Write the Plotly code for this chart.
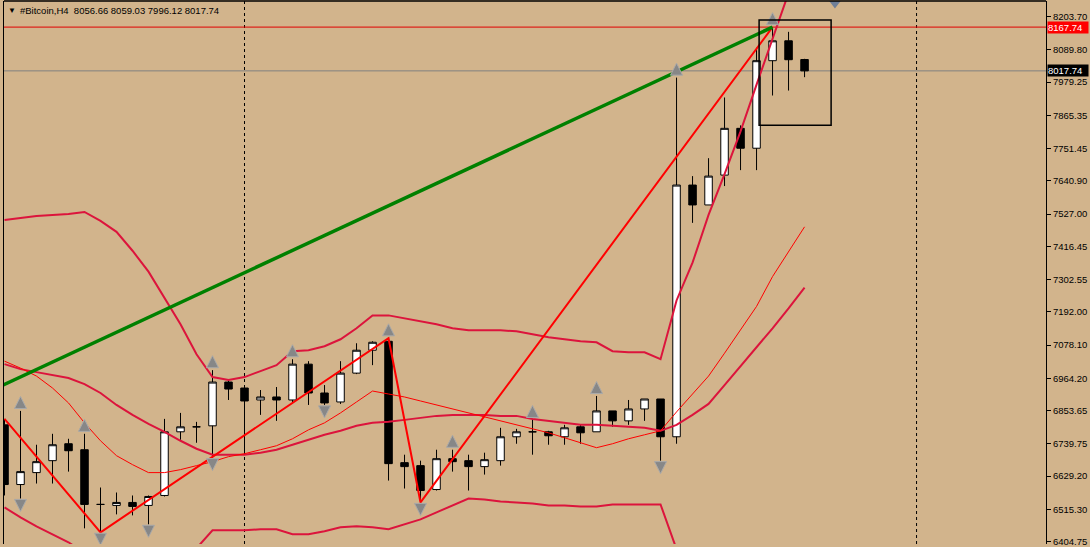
import plotly.graph_objects as go

symbol = "#Bitcoin,H4"
idx = list(range(51))

open_ = [6804.6, 6600.0, 6640.9, 6681.8, 6739.8, 6719.3, 6531.8, 6528.4, 6538.6, 6528.4,
         6562.5, 6780.7, 6797.8, 6801.2, 6951.2, 6930.8, 6889.8, 6900.1, 6889.8, 7012.6,
         6913.7, 6883.0, 6981.9, 7060.3, 7091.0, 6675.0, 6664.8, 6582.9, 6688.6, 6681.8,
         6661.4, 6681.8, 6763.7, 6780.7, 6780.7, 6763.7, 6797.8, 6780.7, 6852.3, 6818.2,
         6859.1, 6893.2, 6763.7, 7626.4, 7558.2, 7660.5, 7820.8, 7752.6, 8052.6, 8120.8,
         8056.66]
high = [6825.0, 6852.3, 6736.4, 6773.9, 6756.8, 6773.9, 6589.8, 6572.7, 6562.5, 6562.5,
        6825.0, 6845.5, 6814.8, 6992.1, 6958.0, 6934.2, 6923.9, 6934.2, 7029.6, 7022.8,
        6941.0, 7022.8, 7084.2, 7091.0, 7101.3, 6702.3, 6681.8, 6719.3, 6719.3, 6702.3,
        6709.1, 6794.4, 6790.9, 6821.6, 6784.1, 6804.6, 6804.6, 6903.5, 6852.3, 6889.8,
        6893.2, 6893.2, 7994.7, 7657.1, 7718.5, 7926.5, 7831.0, 8097.0, 8167.74, 8151.5,
        8059.03]
low = [6562.5, 6552.2, 6603.4, 6603.4, 6644.3, 6449.9, 6436.3, 6497.7, 6494.3, 6463.6,
       6559.1, 6753.4, 6743.2, 6692.1, 6889.8, 6709.1, 6838.7, 6818.2, 6883.0, 6872.8,
       6872.8, 6876.2, 6978.5, 7009.2, 6613.6, 6586.3, 6538.6, 6579.5, 6644.3, 6579.5,
       6634.1, 6664.8, 6739.8, 6702.3, 6736.4, 6736.4, 6739.8, 6780.7, 6797.8, 6804.6,
       6818.2, 6681.8, 6739.8, 7496.8, 7558.2, 7623.0, 7677.5, 7677.5, 7933.3, 7950.3,
       7996.12]
close = [6600.0, 6644.3, 6678.4, 6736.4, 6715.9, 6531.8, 6531.8, 6538.6, 6525.0, 6559.1,
         6780.7, 6797.8, 6797.8, 6951.2, 6927.3, 6886.4, 6900.1, 6889.8, 7012.6, 6913.7,
         6879.6, 6981.9, 7060.3, 7087.6, 6671.6, 6661.4, 6579.5, 6688.6, 6678.4, 6661.4,
         6685.2, 6763.7, 6780.7, 6780.7, 6767.1, 6794.4, 6777.3, 6852.3, 6818.2, 6859.1,
         6893.2, 6763.7, 7626.4, 7558.2, 7657.1, 7820.8, 7752.6, 8052.6, 8120.8, 8056.0,
         8017.74]

band_upper = [7507.0, 7513.9, 7520.7, 7524.1, 7527.5, 7534.3, 7503.6, 7466.1, 7401.3, 7329.7,
              7241.1, 7149.0, 7046.7, 6968.3, 6958.0, 6968.3, 6988.7, 7009.2, 7056.9, 7060.3,
              7074.0, 7097.8, 7135.4, 7179.7, 7179.7, 7169.5, 7159.2, 7149.0, 7135.4, 7128.5,
              7128.5, 7128.5, 7125.1, 7114.9, 7104.7, 7097.8, 7091.0, 7087.6, 7056.9, 7053.5,
              7053.5, 7029.6, 7230.8, 7360.4, 7524.1, 7663.9, 7810.5, 7970.8, 8131.1, 8284.5,
              8414.1]
band_lower = [6521.6, 6487.5, 6456.8, 6429.5, 6402.2, 6364.7, 6323.8, 6282.9, 6276.0, 6286.3,
              6320.4, 6351.1, 6381.7, 6443.1, 6443.1, 6443.1, 6446.5, 6446.5, 6429.5, 6429.5,
              6439.7, 6453.4, 6456.8, 6453.4, 6446.5, 6463.6, 6480.6, 6504.5, 6528.4, 6552.2,
              6548.8, 6542.0, 6538.6, 6535.2, 6528.4, 6528.4, 6525.0, 6525.0, 6531.8, 6531.8,
              6531.8, 6531.8, 6378.3, 6317.0, 6228.3, 6218.1, 6201.0, 6163.5, 6139.6, 6122.6,
              6136.2]
ma_slow = [7012.6, 6995.5, 6985.3, 6975.1, 6964.9, 6944.4, 6913.7, 6872.8, 6838.7, 6808.0,
           6780.7, 6750.0, 6722.7, 6702.3, 6702.3, 6702.3, 6709.1, 6719.3, 6736.4, 6753.4,
           6770.5, 6784.1, 6801.2, 6811.4, 6814.8, 6821.6, 6828.5, 6835.3, 6838.7, 6838.7,
           6838.7, 6835.3, 6835.3, 6825.0, 6818.2, 6811.4, 6804.6, 6804.6, 6801.2, 6797.8,
           6794.4, 6784.1, 6804.6, 6838.7, 6876.2, 6941.0, 7005.8, 7067.2, 7135.4, 7203.6,
           7275.2]
ma_fast = [7022.8, 6999.0, 6971.7, 6930.8, 6879.6, 6811.4, 6750.0, 6698.9, 6668.2, 6640.9,
           6640.9, 6651.1, 6664.8, 6678.4, 6695.5, 6705.7, 6719.3, 6733.0, 6756.8, 6787.5,
           6811.4, 6845.5, 6883.0, 6920.5, 6910.3, 6900.1, 6886.4, 6872.8, 6859.1, 6845.5,
           6831.9, 6818.2, 6804.6, 6790.9, 6777.3, 6760.3, 6743.2, 6726.2, 6739.8, 6756.8,
           6770.5, 6784.1, 6848.9, 6910.3, 6971.7, 7050.1, 7128.5, 7210.4, 7312.7, 7397.9,
           7483.2]

zz_idx = [0, 6, 24, 26, 48]
zz_price = [6825.0, 6436.3, 7101.3, 6538.6, 8167.74]
trend_idx = [-0.25, 48]
trend_price = [6937.0, 8167.74]
frac_up_idx = [1, 5, 13, 18, 24, 28, 33, 37, 42, 48]
frac_dn_idx = [1, 6, 9, 13, 20, 26, 41]
sep_idx = [15, 57]
box_idx = [47.16, 51.66]
box_price = [7831.0, 8192.45]
ask_price = 8167.74
bid_price = 8017.74
shift_idx = 51.9
shift_price = 8248.7
ytick_vals = [8203.70, 8089.80, 7979.25, 7865.35, 7751.45, 7640.90, 7527.00, 7416.45,
              7302.55, 7192.00, 7078.10, 6964.20, 6853.65, 6739.75, 6629.20, 6515.30, 6404.75]

W, H = 1090, 547
ML, MR, MT, MB = 4, 44, 1, 0
y_range = [6396.2, 8257.2]
x_range = [-0.031, 65.09]
ppp = (y_range[1] - y_range[0]) / (H - MT - MB)

TAN = "#D2B48C"
CRIMSON = "#DC143C"
FONT = "Liberation Sans"

fig = go.Figure()

for series in (band_upper, band_lower, ma_slow):
    fig.add_trace(go.Scatter(x=idx, y=series, mode="lines",
                             line=dict(color=CRIMSON, width=2), hoverinfo="skip"))
fig.add_trace(go.Scatter(x=idx, y=ma_fast, mode="lines",
                         line=dict(color="#FF0000", width=1), hoverinfo="skip"))

fig.add_trace(go.Candlestick(
    x=idx, open=open_, high=high, low=low, close=close,
    increasing=dict(fillcolor="white", line=dict(color="black", width=1)),
    decreasing=dict(fillcolor="black", line=dict(color="black", width=1)),
    whiskerwidth=0, hoverinfo="skip"))

fig.add_trace(go.Scatter(x=zz_idx, y=zz_price, mode="lines",
                         line=dict(color="#FF0000", width=2), hoverinfo="skip"))
fig.add_trace(go.Scatter(x=trend_idx, y=trend_price, mode="lines",
                         line=dict(color="#008000", width=3.5), hoverinfo="skip"))

# fractal arrows: the arrow tip sits at the marker position
fig.add_trace(go.Scatter(
    x=frac_up_idx, y=[high[i] + 14.5 * ppp for i in frac_up_idx], mode="markers",
    marker=dict(symbol="arrow-up", size=12, color="#878787",
                line=dict(color="#a9a9a9", width=1)), hoverinfo="skip"))
fig.add_trace(go.Scatter(
    x=frac_dn_idx, y=[low[i] - 13 * ppp for i in frac_dn_idx], mode="markers",
    marker=dict(symbol="arrow-down", size=12, color="#878787",
                line=dict(color="#a9a9a9", width=1)), hoverinfo="skip"))
fig.add_trace(go.Scatter(
    x=[shift_idx], y=[shift_price], mode="markers",
    marker=dict(symbol="triangle-down", size=10, color="#6f7f98"), hoverinfo="skip"))

shapes = []
for s in sep_idx:
    shapes.append(dict(type="line", xref="x", yref="paper", x0=s, x1=s, y0=0, y1=1,
                       line=dict(color="black", width=1, dash="3px,3px"), layer="below"))
shapes.append(dict(type="line", xref="paper", yref="y", x0=0, x1=1, y0=ask_price, y1=ask_price,
                   line=dict(color="#E00000", width=1), layer="below"))
shapes.append(dict(type="line", xref="paper", yref="y", x0=0, x1=1, y0=bid_price, y1=bid_price,
                   line=dict(color="#808080", width=1), layer="below"))
shapes.append(dict(type="rect", xref="x", yref="y", x0=box_idx[0], x1=box_idx[1],
                   y0=box_price[0], y1=box_price[1],
                   line=dict(color="black", width=1.5), fillcolor="rgba(0,0,0,0)", layer="above"))
shapes.append(dict(type="line", xref="paper", yref="paper", x0=0, x1=1, y0=1, y1=1,
                   line=dict(color="black", width=1.5)))

title_text = (symbol + "\u00a0\u00a0" + " ".join(f"{v:.2f}" for v in
              (open_[-1], high[-1], low[-1], close[-1])))

annotations = [
    dict(xref="paper", yref="paper", x=0, y=1, xanchor="left", yanchor="top",
         xshift=2, yshift=-3, text="\u25BC", showarrow=False,
         font=dict(family=FONT, size=8, color="black")),
    dict(xref="paper", yref="paper", x=0, y=1, xanchor="left", yanchor="top",
         xshift=14, yshift=-2, text=title_text, showarrow=False,
         font=dict(family=FONT, size=9.5, color="black")),
    dict(xref="paper", yref="y", x=1, y=ask_price, xanchor="left", yanchor="middle",
         xshift=1, text=f"{ask_price:.2f}", showarrow=False, bgcolor="#FF0000",
         width=40, height=11, align="left", borderpad=0,
         font=dict(family=FONT, size=9.5, color="white")),
    dict(xref="paper", yref="y", x=1, y=bid_price, xanchor="left", yanchor="middle",
         xshift=1, text=f"{bid_price:.2f}", showarrow=False, bgcolor="black",
         width=40, height=11, align="left", borderpad=0,
         font=dict(family=FONT, size=9.5, color="white")),
]

fig.update_layout(
    width=W, height=H, margin=dict(l=ML, r=MR, t=MT, b=MB),
    paper_bgcolor=TAN, plot_bgcolor=TAN, showlegend=False, hovermode=False,
    boxgap=0.33,
    shapes=shapes, annotations=annotations,
    xaxis=dict(range=x_range, showgrid=False, zeroline=False, showticklabels=False,
               ticks="", showline=False, rangeslider=dict(visible=False), fixedrange=True),
    yaxis=dict(range=y_range, side="right", showgrid=False, zeroline=False,
               tickvals=ytick_vals, tickformat=".2f", ticks="outside", ticklen=4,
               tickcolor="black", tickwidth=1, showline=True, linecolor="black",
               linewidth=1, mirror=True, ticklabeloverflow="allow",
               tickfont=dict(family=FONT, size=9.5, color="black"),
               fixedrange=True),
)

fig.write_html("out.html", config={"displayModeBar": False},
               post_script="document.body.style.margin='0px';document.body.style.overflow='hidden';")
